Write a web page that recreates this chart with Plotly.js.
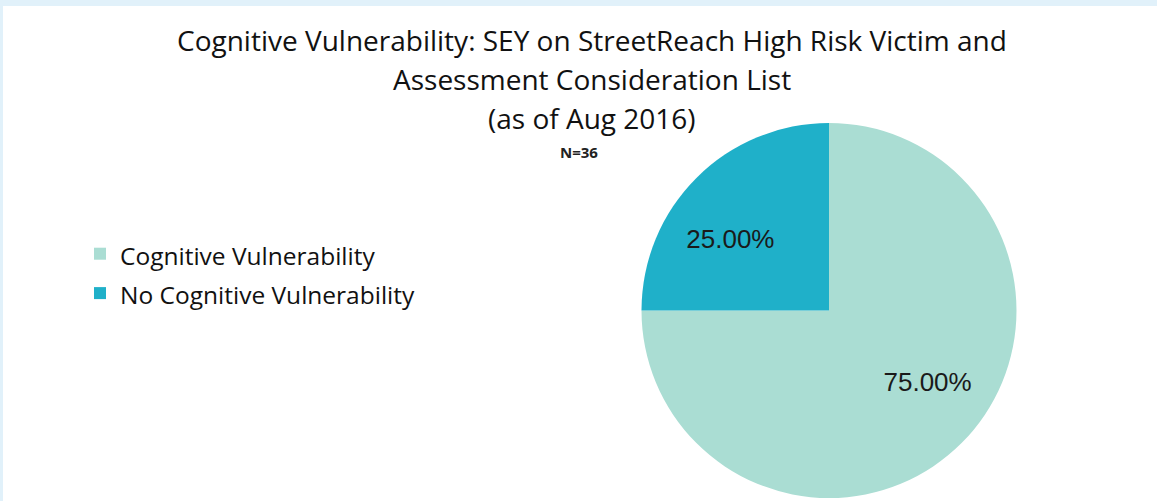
<!DOCTYPE html>
<html><head><meta charset="utf-8">
<script src="https://cdn.plot.ly/plotly-3.0.1.min.js"></script>
<style>html,body{margin:0;padding:0;background:#fff}</style>
</head><body>
<div id="chart" style="width:1157px;height:501px"></div>
<script>
const categories = ["Cognitive Vulnerability", "No Cognitive Vulnerability"];
const values = [75, 25];
const colors = ["#aaddd3", "#1fb0c9"];
const titleLines = ["Cognitive Vulnerability: SEY on StreetReach High Risk Victim and", "Assessment Consideration List", "(as of Aug 2016)"];
const subtitle = "N=36";

const W = 1157, H = 501;
const cx = 829, cy = 310.5, r = 187.5;
const domain = {x: [(cx - r) / W, (cx + r) / W], y: [(H - cy - r) / H, (H - cy + r) / H]};
const font = "'Open Sans', sans-serif";

const pieTrace = {
  type: "pie",
  labels: categories,
  values: values,
  sort: false,
  direction: "clockwise",
  rotation: 0,
  marker: {colors: colors, line: {width: 0}},
  textinfo: "none",
  hoverinfo: "none",
  domain: domain
};

// transparent overlay carrying the percentage labels
const labelTrace = {
  type: "pie",
  labels: categories,
  values: values,
  sort: false,
  direction: "clockwise",
  rotation: -9,
  hole: 0.3,
  showlegend: false,
  marker: {colors: categories.map(() => "rgba(0,0,0,0)"), line: {width: 0}},
  texttemplate: "%{percent:.2%}",
  textposition: "inside",
  insidetextorientation: "horizontal",
  textfont: {family: "'Liberation Sans', Arial, sans-serif", size: 26, color: "#1a1a1a"},
  hoverinfo: "none",
  domain: domain
};

const titleY = [40, 79, 118];
const annotations = titleLines.map((t, i) => ({
  text: t, xref: "paper", yref: "paper", x: 592 / W, y: 1 - titleY[i] / H,
  xanchor: "center", yanchor: "middle", showarrow: false,
  font: {family: font, size: 28, color: "#111"}
}));
annotations.push({
  text: "<b>" + subtitle + "</b>", xref: "paper", yref: "paper", x: 579 / W, y: 1 - 152 / H,
  xanchor: "center", yanchor: "middle", showarrow: false,
  font: {family: font, size: 15, color: "#222"}
});

const layout = {
  width: W, height: H,
  margin: {l: 0, r: 0, t: 0, b: 0},
  paper_bgcolor: "#ffffff",
  showlegend: true,
  legend: {x: 80 / W, y: 1 - 229 / H, xanchor: "left", yanchor: "top",
    font: {family: font, size: 28, color: "#111"}, itemwidth: 30},
  annotations: annotations,
  shapes: [
    {type: "rect", xref: "paper", yref: "paper", x0: 0, x1: 1, y0: 1 - 6 / H, y1: 1, fillcolor: "#e1f1fa", line: {width: 0}, layer: "below"},
    {type: "rect", xref: "paper", yref: "paper", x0: 0, x1: 3 / W, y0: 0, y1: 1, fillcolor: "#e1f1fa", line: {width: 0}, layer: "below"}
  ]
};

Plotly.newPlot("chart", [pieTrace, labelTrace], layout, {staticPlot: true, displayModeBar: false}).then(() => {
  // smaller legend text while keeping the taller row spacing
  document.querySelectorAll(".legendtext").forEach(el => { el.style.fontSize = "24.5px"; });
});
</script>
</body></html>
